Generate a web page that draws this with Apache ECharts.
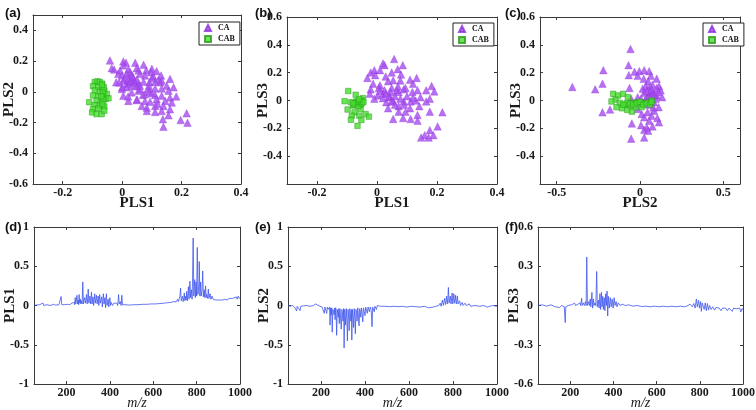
<!DOCTYPE html>
<html><head><meta charset="utf-8">
<script src="https://cdn.jsdelivr.net/npm/echarts@6/dist/echarts.min.js"></script>
<style>html,body{margin:0;padding:0;background:#fff}#c{width:756px;height:410px}</style>
</head><body><div id="c"></div>
<script>
// ---------- DATA ----------
// Panel (a): PLS1 vs PLS2
const caA = [[-0.041,0.204],[0.004,0.198],[0.013,0.189],[0.044,0.189],[0.072,0.176],[0.100,0.150],[0.004,0.172],[-0.035,0.154],[-0.027,0.145],[-0.007,0.139],[0.021,0.145],[0.027,0.128],[0.049,0.154],[0.055,0.139],[0.081,0.139],[0.097,0.128],[0.116,0.134],[0.131,0.106],[-0.013,0.117],[-0.001,0.106],[0.015,0.117],[0.032,0.110],[0.038,0.088],[0.060,0.117],[0.077,0.106],[0.105,0.101],[0.122,0.079],[0.133,0.073],[0.161,0.084],[-0.020,0.062],[0.004,0.073],[0.015,0.051],[0.027,0.066],[0.044,0.062],[0.055,0.051],[0.072,0.066],[0.092,0.062],[0.111,0.066],[0.128,0.062],[0.150,0.040],[0.173,0.029],[-0.001,0.018],[0.015,0.029],[0.032,0.040],[0.049,0.036],[0.060,0.018],[0.088,0.018],[0.111,0.022],[0.133,0.022],[0.156,0.007],[0.004,-0.026],[0.032,-0.004],[0.055,0.007],[0.077,-0.015],[0.092,0.001],[0.111,-0.021],[0.133,-0.026],[0.161,-0.037],[0.182,-0.030],[0.021,-0.059],[0.049,-0.054],[0.077,-0.059],[0.094,-0.065],[0.116,-0.048],[0.145,-0.059],[0.167,-0.070],[0.066,-0.092],[0.083,-0.103],[0.111,-0.092],[0.139,-0.092],[0.161,-0.114],[0.083,-0.125],[0.111,-0.131],[0.133,-0.125],[0.217,-0.140],[0.156,-0.153],[0.137,-0.179],[0.197,-0.184],[0.220,-0.201],[0.139,-0.228],[0.010,0.090],[0.020,0.080],[0.030,0.070],[0.040,0.060],[0.035,0.100],[0.050,0.080],[0.060,0.040],[0.100,-0.010],[0.090,0.040],[-0.010,0.060],[0.000,0.030],[0.020,-0.030],[0.050,-0.050],[0.070,-0.020],[0.120,-0.080],[0.100,0.090]];
const cabA = [[-0.092,0.064],[-0.083,0.068],[-0.075,0.064],[-0.067,0.053],[-0.098,0.037],[-0.080,0.031],[-0.067,0.020],[-0.092,0.009],[-0.075,-0.002],[-0.060,0.009],[-0.098,-0.024],[-0.080,-0.029],[-0.063,-0.024],[-0.052,-0.013],[-0.086,-0.057],[-0.069,-0.068],[-0.055,-0.046],[-0.046,-0.042],[-0.111,-0.068],[-0.092,-0.086],[-0.075,-0.090],[-0.060,-0.095],[-0.098,-0.112],[-0.080,-0.108],[-0.101,-0.134],[-0.086,-0.145],[-0.069,-0.145],[-0.060,-0.123],[-0.065,0.000],[-0.063,-0.050],[-0.066,-0.080],[-0.070,-0.030],[-0.062,0.030],[-0.068,0.045]];
// Panel (b): PLS1 vs PLS3
const caB = [[0.057,0.298],[0.020,0.266],[0.025,0.254],[0.086,0.254],[-0.021,0.201],[-0.009,0.218],[0.010,0.218],[0.049,0.201],[0.069,0.225],[0.080,0.186],[-0.032,0.162],[-0.006,0.182],[0.029,0.172],[0.054,0.145],[0.078,0.143],[0.110,0.150],[0.132,0.162],[-0.013,0.121],[0.010,0.109],[0.037,0.138],[0.095,0.090],[0.120,0.121],[0.182,0.104],[-0.021,0.080],[0.006,0.090],[0.025,0.073],[0.049,0.090],[0.066,0.073],[0.089,0.080],[0.135,0.073],[0.164,0.073],[0.191,0.065],[-0.024,0.048],[0.002,0.036],[0.020,0.048],[0.045,0.061],[0.072,0.061],[0.118,0.061],[-0.009,0.012],[0.020,0.017],[0.043,0.024],[0.078,0.012],[0.145,0.024],[0.176,0.012],[0.031,-0.012],[0.054,-0.007],[0.089,-0.007],[0.112,-0.007],[0.129,0.000],[0.164,-0.007],[0.037,-0.056],[0.072,-0.041],[0.110,-0.056],[0.141,-0.041],[0.176,-0.080],[0.218,-0.085],[0.072,-0.080],[0.095,-0.080],[0.135,-0.104],[0.054,-0.133],[0.087,-0.126],[0.112,-0.133],[0.135,-0.145],[0.202,-0.186],[0.176,-0.213],[0.159,-0.249],[0.188,-0.249],[0.147,-0.266],[0.172,-0.266],[0.030,0.050],[0.040,0.030],[0.050,0.000],[0.060,0.030],[0.010,0.070],[0.070,0.100],[0.100,0.030],[0.120,0.020],[0.090,-0.030],[0.060,-0.030]];
const cabB = [[-0.096,0.068],[-0.071,0.041],[-0.047,0.017],[-0.108,-0.005],[-0.087,-0.012],[-0.067,-0.007],[-0.052,0.000],[-0.079,-0.036],[-0.098,-0.065],[-0.075,-0.085],[-0.055,-0.061],[-0.038,-0.097],[-0.084,-0.109],[-0.059,-0.109],[-0.027,-0.116],[-0.052,-0.140],[-0.087,-0.138],[-0.065,-0.182],[-0.070,-0.020],[-0.065,-0.025],[-0.060,-0.015],[-0.075,-0.030],[-0.055,-0.030],[-0.062,-0.040],[-0.068,-0.010],[-0.058,-0.005],[-0.050,-0.020],[-0.080,-0.020],[-0.045,-0.010],[-0.060,0.010]];
// Panel (c): PLS2 vs PLS3
const caC = [[-0.406,0.097],[-0.269,0.080],[-0.220,0.218],[-0.225,0.121],[-0.225,-0.085],[-0.180,-0.065],[-0.057,0.370],[-0.069,0.254],[-0.067,0.182],[-0.063,0.090],[-0.053,0.012],[-0.049,-0.165],[-0.053,-0.274],[0.025,-0.266],[-0.033,0.206],[-0.004,0.211],[0.025,0.218],[0.055,0.211],[-0.014,0.177],[0.022,0.157],[0.065,0.177],[0.049,0.138],[0.100,0.157],[0.016,0.085],[0.035,0.104],[0.055,0.090],[0.075,0.065],[0.114,0.104],[0.124,0.073],[0.133,0.024],[0.100,0.036],[0.025,0.056],[0.065,0.036],[0.041,0.024],[0.075,0.114],[-0.014,0.024],[0.006,0.012],[0.112,-0.048],[0.084,-0.073],[0.045,-0.085],[0.010,-0.097],[0.069,-0.109],[0.025,-0.121],[0.104,-0.126],[0.114,-0.157],[0.055,-0.145],[0.006,-0.177],[0.041,-0.194],[0.075,-0.186],[0.025,-0.211],[0.049,-0.218],[-0.014,-0.061],[0.084,-0.012],[0.055,-0.031],[0.094,0.012],[0.060,0.060],[0.080,0.050],[0.040,0.070],[0.070,0.080],[0.090,0.040],[0.050,0.020],[0.100,0.090],[0.110,0.060],[0.030,0.000],[0.080,-0.050]];
const cabC = [[-0.161,0.048],[-0.131,0.036],[-0.102,0.048],[-0.073,0.024],[-0.147,0.007],[-0.171,-0.007],[-0.122,-0.017],[-0.092,-0.031],[-0.061,-0.041],[-0.043,-0.017],[-0.108,-0.056],[-0.076,-0.068],[-0.049,-0.080],[-0.014,-0.012],[0.016,-0.024],[0.045,-0.017],[0.069,0.000],[-0.024,-0.048],[0.010,-0.048],[-0.141,-0.048],[-0.080,-0.020],[-0.060,-0.020],[-0.040,-0.030],[-0.020,-0.020],[0.000,-0.010],[0.020,-0.030],[0.040,-0.020],[0.060,-0.030],[-0.100,-0.030],[0.070,-0.010]];
// Panels (d)-(f): loading spectra  [m/z, loading]
const specPLS1 = [[50,0],[60,0.005],[75,0.01],[80,0],[92,0.03],[95,0],[110,0.01],[125,0],[140,0.015],[150,0.005],[165,0.01],[172,0],[175,0.115],[178,0.01],[190,0.01],[205,0.015],[215,0.01],[225,0.03],[230,0.01],[236,0.04],[238,0.01],[240,0.1],[243,0.02],[248,0.13],[251,0.02],[254,0.07],[256,0.01],[258,0.14],[261,0.03],[264,0.08],[266,0.02],[268,0.06],[272,0.02],[275,0.3],[278,0.02],[281,0.07],[284,0.1],[287,0.03],[290,0.08],[292,0.14],[295,0.02],[298,0.1],[300,0.21],[303,0.03],[306,0.09],[308,0.12],[311,0.02],[313,0.09],[315,0.17],[318,0.02],[320,0.07],[322,0.11],[325,0],[328,0.08],[330,0.15],[333,0.03],[336,0.09],[338,0.13],[341,0.02],[344,0.07],[346,0.12],[349,0],[351,0.08],[353,0.14],[356,0.03],[359,0.07],[362,0.11],[365,-0.02],[368,0.09],[370,0.15],[373,0.02],[375,0.06],[377,0.1],[380,-0.03],[382,0.08],[384,0.15],[387,0],[390,0.05],[392,0.08],[395,-0.02],[398,0.06],[400,0.1],[403,0],[406,0.04],[408,0.06],[412,0],[418,0.03],[425,0.01],[432,0.03],[436,0],[438,0.06],[440,0.14],[443,0.02],[448,0.05],[452,0],[455,0.13],[458,0.01],[470,0.01],[490,0.005],[510,0.01],[530,0.01],[550,0.015],[570,0.015],[590,0.02],[610,0.02],[630,0.025],[650,0.03],[665,0.035],[680,0.04],[695,0.05],[705,0.045],[712,0.08],[716,0.05],[720,0.07],[723,0.12],[726,0.22],[729,0.06],[732,0.09],[735,0.12],[738,0.05],[741,0.1],[743,0.16],[746,0.06],[748,0.12],[750,0.1],[752,0.07],[754,0.18],[757,0.06],[760,0.15],[762,0.24],[765,0.08],[767,0.2],[769,0.31],[772,0.1],[774,0.16],[776,0.2],[779,0.08],[781,0.3],[784,0.86],[787,0.12],[789,0.25],[791,0.33],[794,0.1],[797,0.3],[800,0.12],[801,0.35],[803,0.74],[806,0.14],[809,0.24],[811,0.3],[812,0.56],[815,0.12],[818,0.3],[821,0.12],[823,0.16],[825,0.2],[828,0.44],[831,0.11],[833,0.16],[835,0.2],[838,0.1],[841,0.25],[844,0.1],[846,0.14],[848,0.16],[851,0.09],[854,0.21],[857,0.09],[860,0.12],[862,0.15],[866,0.08],[871,0.12],[876,0.08],[882,0.1],[888,0.07],[895,0.09],[903,0.07],[912,0.09],[920,0.07],[930,0.08],[940,0.07],[950,0.09],[958,0.07],[966,0.09],[975,0.08],[983,0.11],[987,0.08],[992,0.12],[996,0.09],[1000,0.1]];
const specPLS2 = [[50,0],[60,-0.01],[70,0],[80,-0.02],[89,-0.07],[92,-0.01],[100,0],[105,-0.065],[108,-0.01],[120,-0.005],[135,0],[150,-0.01],[165,0],[175,0.02],[180,0],[195,-0.01],[205,-0.02],[215,-0.1],[218,-0.02],[226,-0.1],[229,-0.02],[233,-0.05],[237,-0.07],[239,-0.02],[241,-0.25],[244,-0.03],[247,-0.12],[249,-0.03],[251,-0.34],[254,-0.05],[257,-0.09],[260,-0.12],[262,-0.03],[264,-0.18],[267,-0.03],[269,-0.1],[271,-0.38],[274,-0.05],[277,-0.11],[279,-0.15],[281,-0.04],[283,-0.23],[286,-0.04],[289,-0.16],[292,-0.3],[295,-0.05],[298,-0.12],[300,-0.2],[303,-0.04],[305,-0.54],[308,-0.05],[310,-0.14],[312,-0.25],[315,-0.04],[318,-0.2],[320,-0.45],[323,-0.05],[326,-0.15],[328,-0.32],[331,-0.04],[334,-0.13],[336,-0.2],[338,-0.05],[340,-0.44],[343,-0.05],[346,-0.16],[348,-0.28],[351,-0.04],[354,-0.17],[356,-0.36],[359,-0.05],[362,-0.1],[364,-0.2],[367,-0.03],[370,-0.12],[373,-0.26],[376,-0.04],[379,-0.09],[381,-0.15],[384,-0.03],[387,-0.1],[390,-0.21],[393,-0.03],[397,-0.08],[400,-0.13],[403,-0.02],[407,-0.06],[410,-0.1],[414,-0.02],[417,-0.05],[420,-0.08],[424,-0.02],[428,-0.06],[432,-0.27],[435,-0.02],[442,-0.08],[445,-0.01],[452,-0.05],[456,0],[470,-0.01],[490,-0.01],[510,-0.015],[530,-0.01],[550,-0.015],[570,-0.01],[590,-0.02],[610,-0.01],[630,-0.015],[650,-0.02],[670,-0.01],[690,-0.03],[695,-0.01],[710,-0.02],[718,-0.04],[722,-0.01],[735,0],[742,0.03],[746,-0.01],[752,0.07],[756,0],[762,0.09],[766,0.01],[771,0.12],[774,0.02],[777,0.1],[779,0.23],[782,0.03],[785,0.08],[788,0.12],[791,0.02],[794,0.1],[796,0.16],[799,0.02],[802,0.09],[804,0.15],[807,0.03],[810,0.07],[812,0.13],[815,0.02],[818,0.06],[820,0.12],[823,0.02],[830,0.06],[834,0],[842,0.04],[846,0],[855,0.03],[860,0],[875,0.02],[880,-0.01],[900,0],[920,-0.01],[940,0],[955,-0.02],[960,-0.04],[964,-0.01],[980,0],[1000,-0.01]];
const specPLS3 = [[50,0],[70,0.005],[90,-0.005],[110,0.005],[130,-0.01],[150,-0.015],[160,0],[172,-0.01],[176,-0.13],[179,-0.01],[190,0],[205,0.005],[220,0.018],[224,0],[235,0.01],[245,0.02],[248,0],[252,0.055],[255,0],[260,0.02],[265,0],[270,0.03],[273,0],[276,0.37],[279,0],[285,0.03],[288,0],[292,0.05],[295,-0.01],[300,0.1],[303,-0.02],[307,0.05],[310,0],[314,0.02],[318,0],[322,0.26],[325,-0.01],[330,0.04],[333,-0.02],[337,0.09],[340,-0.03],[344,0.1],[347,-0.01],[350,0.07],[353,-0.03],[357,0.06],[360,-0.04],[364,0.09],[367,0],[370,0.11],[373,-0.08],[376,0.07],[380,-0.02],[385,0.06],[389,-0.01],[394,0.05],[398,-0.02],[403,0.06],[407,0],[412,0.03],[416,-0.01],[422,0.02],[430,0],[440,0.01],[455,0],[470,0.005],[490,-0.005],[510,0],[530,-0.008],[550,-0.005],[570,-0.01],[590,-0.005],[610,-0.01],[630,-0.005],[650,-0.01],[670,-0.005],[690,-0.01],[710,-0.005],[730,-0.01],[745,0],[755,0.01],[760,0.02],[765,-0.01],[772,0.015],[778,-0.02],[784,0.05],[788,-0.01],[794,0.04],[798,-0.02],[803,0.03],[807,-0.045],[811,0.02],[816,0.035],[820,-0.03],[825,0.02],[830,-0.04],[835,0.015],[840,-0.035],[845,0],[852,-0.03],[860,-0.01],[868,-0.035],[875,-0.015],[882,-0.03],[890,-0.02],[898,-0.04],[905,-0.02],[912,-0.035],[920,-0.02],[928,-0.04],[935,-0.02],[942,-0.03],[950,-0.045],[956,-0.02],[962,-0.035],[970,-0.025],[978,-0.04],[985,-0.02],[990,-0.05],[995,-0.025],[1000,-0.03]];
// Tick labels
const ticksPLS1x = [-0.2, 0, 0.2, 0.4];
const ticksYa = [-0.6, -0.4, -0.2, 0, 0.2, 0.4];
const ticksYbc = [-0.4, -0.2, 0, 0.2, 0.4, 0.6];
const ticksPLS2x = [-0.5, 0, 0.5];
const ticksMz = [200, 400, 600, 800, 1000];
const ticksLoad1 = [-1, -0.5, 0, 0.5, 1];
const ticksLoad3 = [-0.6, -0.3, 0, 0.3, 0.6];

// ---------- STYLE / LAYOUT ----------
const SERIF = '"Liberation Serif","DejaVu Serif",serif';
const FRAME = '#3a3a3a';
const PURPLE = '#a64cf0';
const GREEN = '#46dd2e';
const BLUE = '#3f55ee';

const panels = [
  {tag:'(a)', tx:5, ty:7, grid:{left:33,top:15,width:208,height:169},
   x:{min:-0.3,max:0.4,ticks:ticksPLS1x,name:'PLS1'}, y:{min:-0.6,max:0.5,ticks:ticksYa,name:'PLS2'},
   ca:caA, cab:cabA, legend:{left:199,top:22}},
  {tag:'(b)', tx:255, ty:7, grid:{left:287,top:17,width:210,height:167},
   x:{min:-0.3,max:0.4,ticks:ticksPLS1x,name:'PLS1'}, y:{min:-0.6,max:0.6,ticks:ticksYbc,name:'PLS3'},
   ca:caB, cab:cabB, legend:{left:453,top:23}},
  {tag:'(c)', tx:505, ty:7, grid:{left:540,top:17,width:200,height:167},
   x:{min:-0.6,max:0.6,ticks:ticksPLS2x,name:'PLS2'}, y:{min:-0.6,max:0.6,ticks:ticksYbc,name:'PLS3'},
   ca:caC, cab:cabC, legend:{left:703,top:23}},
  {tag:'(d)', tx:5, ty:221, grid:{left:34,top:227,width:206,height:157},
   x:{min:50,max:1000,ticks:ticksMz,name:'m/z',italic:true}, y:{min:-1,max:1,ticks:ticksLoad1,name:'PLS1'},
   spec:specPLS1},
  {tag:'(e)', tx:255, ty:221, grid:{left:288,top:227,width:209,height:157},
   x:{min:50,max:1000,ticks:ticksMz,name:'m/z',italic:true}, y:{min:-1,max:1,ticks:ticksLoad1,name:'PLS2'},
   spec:specPLS2},
  {tag:'(f)', tx:505, ty:221, grid:{left:538,top:227,width:205,height:157},
   x:{min:50,max:1000,ticks:ticksMz,name:'m/z',italic:true}, y:{min:-0.6,max:0.6,ticks:ticksLoad3,name:'PLS3'},
   spec:specPLS3}
];

const fmt = v => String(Math.round(v*1000)/1000);
const grid=[], xAxis=[], yAxis=[], series=[], legend=[], graphic=[];
const lblStyle = {fontFamily:SERIF, fontWeight:'bold', fontSize:12, color:'#1a1a1a', formatter:fmt};
panels.forEach((p,i)=>{
  grid.push(Object.assign({containLabel:false, outerBoundsMode:'none'}, p.grid));
  const common = {type:'value', gridIndex:i, splitLine:{show:false},
    axisLine:{show:true, onZero:false, lineStyle:{color:FRAME,width:1}}};
  xAxis.push(Object.assign({}, common, {position:'bottom', min:p.x.min, max:p.x.max,
    axisTick:{show:true, inside:true, length:3, customValues:p.x.ticks, lineStyle:{color:FRAME}},
    axisLabel:Object.assign({show:true, margin:3, customValues:p.x.ticks}, lblStyle),
    name:p.x.name, nameLocation:'middle', nameGap:p.x.italic?12:12, nameMoveOverlap:false,
    nameTextStyle:{fontFamily:SERIF, fontWeight:p.x.italic?'normal':'bold', fontStyle:p.x.italic?'italic':'normal', fontSize:p.x.italic?14:15, color:'#1a1a1a'}}));
  xAxis.push(Object.assign({}, common, {position:'top', min:p.x.min, max:p.x.max,
    axisTick:{show:true, inside:true, length:3, customValues:p.x.ticks, lineStyle:{color:FRAME}},
    axisLabel:{show:false}}));
  yAxis.push(Object.assign({}, common, {position:'left', min:p.y.min, max:p.y.max,
    axisTick:{show:true, inside:true, length:3, customValues:p.y.ticks, lineStyle:{color:FRAME}},
    axisLabel:Object.assign({show:true, margin:5, customValues:p.y.ticks}, lblStyle),
    name:p.y.name, nameLocation:'middle', nameGap:16, nameRotate:90, nameMoveOverlap:false,
    nameTextStyle:{fontFamily:SERIF, fontWeight:'bold', fontSize:15, color:'#1a1a1a'}}));
  yAxis.push(Object.assign({}, common, {position:'right', min:p.y.min, max:p.y.max,
    axisTick:{show:true, inside:true, length:3, customValues:p.y.ticks, lineStyle:{color:FRAME}},
    axisLabel:{show:false}}));
  if (p.ca) {
    series.push({type:'scatter', name:'CA', xAxisIndex:2*i, yAxisIndex:2*i, data:p.ca,
      symbol:'triangle', symbolSize:7.5, itemStyle:{color:PURPLE, borderColor:'#8a2fd8', borderWidth:0.4}});
    series.push({type:'scatter', name:'CAB', xAxisIndex:2*i, yAxisIndex:2*i, data:p.cab,
      symbol:'rect', symbolSize:5.5, itemStyle:{color:GREEN, borderColor:'#2a9a1c', borderWidth:0.6}});
    legend.push({left:p.legend.left, top:p.legend.top, orient:'vertical',
      data:[{name:'CA',icon:'triangle'},{name:'CAB',icon:'rect'}],
      itemWidth:6, itemHeight:6, itemGap:3, padding:[2,5,2,5],
      borderColor:'#222', borderWidth:1, backgroundColor:'#fff', borderRadius:0,
      selectedMode:false,
      textStyle:{fontFamily:SERIF, fontWeight:'bold', fontSize:8, color:'#111', padding:[0,0,0,2]}});
  } else {
    series.push({type:'line', name:p.y.name, xAxisIndex:2*i, yAxisIndex:2*i, data:p.spec,
      showSymbol:false, symbol:'none', lineStyle:{color:BLUE, width:0.8}, itemStyle:{color:BLUE}});
  }
  graphic.push({type:'text', left:p.tx, top:p.ty,
    style:{text:p.tag, font:'bold 13px "Liberation Sans", Arial, sans-serif', fill:'#111'}});
});

const chart = echarts.init(document.getElementById('c'));
chart.setOption({animation:false, backgroundColor:'#fff', grid, xAxis, yAxis, series, legend, graphic});
</script>
</body></html>
